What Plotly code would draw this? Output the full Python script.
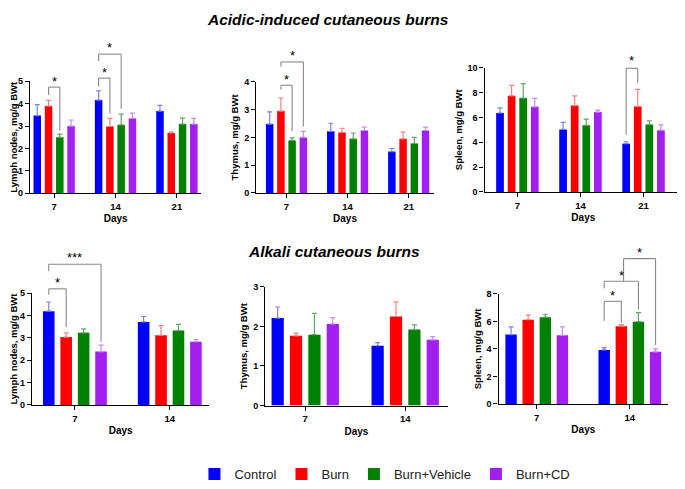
import plotly.graph_objects as go

OFF = 8  # page body margin in the browser
W, H = 685 - OFF, 489 - OFF

groups = ['Control', 'Burn', 'Burn+Vehicle', 'Burn+CD']
colors = ['#0000ff', '#ff0000', '#008000', '#a31ff0']
err_colors = ['#7f7fff', '#ff7f7f', '#5fa85f', '#c98af5']

days_acid = ['7', '14', '21']
days_alk = ['7', '14']

# Acidic-induced burns: rows = groups (Control, Burn, Burn+Vehicle, Burn+CD), columns = days
acid_lymph_mean = [[3.47, 4.16, 3.67], [3.89, 2.98, 2.69], [2.50, 3.05, 3.09], [3.00, 3.34, 3.09]]
acid_lymph_err = [[0.49, 0.41, 0.25], [0.26, 0.36, 0.04], [0.14, 0.48, 0.26], [0.27, 0.24, 0.25]]
acid_thymus_mean = [[2.48, 2.22, 1.49], [2.95, 2.18, 1.95], [1.89, 1.95, 1.78], [2.00, 2.25, 2.25]]
acid_thymus_err = [[0.44, 0.29, 0.11], [0.47, 0.15, 0.24], [0.09, 0.21, 0.22], [0.22, 0.12, 0.12]]
acid_spleen_mean = [[6.35, 5.03, 3.88], [7.73, 6.95, 6.88], [7.55, 5.36, 5.42], [6.85, 6.43, 4.97]]
acid_spleen_err = [[0.42, 0.57, 0.16], [0.84, 0.78, 1.38], [1.17, 0.50, 0.31], [0.68, 0.16, 0.42]]

# Alkali burns
alk_lymph_mean = [[4.20, 3.72], [3.04, 3.12], [3.23, 3.33], [2.39, 2.83]]
alk_lymph_err = [[0.41, 0.24], [0.19, 0.43], [0.18, 0.28], [0.29, 0.10]]
alk_thymus_mean = [[2.21, 1.51], [1.76, 2.25], [1.79, 1.92], [2.06, 1.66]]
alk_thymus_err = [[0.28, 0.08], [0.07, 0.37], [0.54, 0.12], [0.16, 0.08]]
alk_spleen_mean = [[5.04, 3.93], [6.12, 5.65], [6.31, 5.98], [4.99, 3.79]]
alk_spleen_err = [[0.56, 0.16], [0.33, 0.11], [0.21, 0.66], [0.61, 0.21]]

BARGAP = 0.265
SLOT = (1 - BARGAP) / 4


def fx(px):
    return (px - OFF) / W


def fy(py):
    return 1 - (py - OFF) / H


# panel layout: pixel geometry (x-axis left/right, y pixel of 0 and of top tick)
panels = [
    dict(days=days_acid, mean=acid_lymph_mean, err=acid_lymph_err, title='Lymph nodes, mg/g BWt',
         ymax=5, dtick=1, px=(28, 200), py=(193.7, 78.3), xr=(-0.395, 2.40)),
    dict(days=days_acid, mean=acid_thymus_mean, err=acid_thymus_err, title='Thymus, mg/g BWt',
         ymax=4, dtick=1, px=(255, 433), py=(193.3, 79), xr=(-0.495, 2.41)),
    dict(days=days_acid, mean=acid_spleen_mean, err=acid_spleen_err, title='Spleen, mg/g BWt',
         ymax=10, dtick=2, px=(484, 682), py=(192.3, 64.3), xr=(-0.52, 2.61)),
    dict(days=days_alk, mean=alk_lymph_mean, err=alk_lymph_err, title='Lymph nodes, mg/g BWt',
         ymax=5, dtick=1, px=(30, 208), py=(411.7, 296.7), xr=(-0.453, 1.418)),
    dict(days=days_alk, mean=alk_thymus_mean, err=alk_thymus_err, title='Thymus, mg/g BWt',
         ymax=3, dtick=1, px=(264, 447), py=(412.3, 290), xr=(-0.40, 1.425)),
    dict(days=days_alk, mean=alk_spleen_mean, err=alk_spleen_err, title='Spleen, mg/g BWt',
         ymax=8, dtick=2, px=(498, 668), py=(410.7, 297.3), xr=(-0.41, 1.41)),
]

# significance brackets: (panel, day index, group a, group b, top, left-bottom, right-bottom, label, label y)
brackets = [
    (0, 0, 1, 2, 4.74, 4.39, 2.80, '*', 5.10),
    (0, 1, 0, 1, 5.14, 4.78, 3.55, '*', 5.50),
    (0, 1, 0, 2, 6.21, 5.90, 3.77, '*', 6.59),
    (1, 0, 1, 2, 3.88, 3.73, 2.22, '*', 4.17),
    (1, 0, 1, 3, 4.72, 4.55, 2.39, '*', 5.04),
    (2, 2, 0, 1, 9.95, 4.61, 8.78, '*', 10.73),
    (3, 0, 0, 1, 5.20, 4.93, 3.48, '*', 5.58),
    (3, 0, 0, 3, 6.30, 5.99, 2.83, '***', 6.71),
    (5, 1, 0, 1, 7.46, 6.05, 5.88, '*', 8.05),
    (5, 1, 0, 2, 8.92, 8.40, 6.87, '*', 9.46),
    (5, 1, 1.13, 3, 10.56, 8.92, 4.28, '*', 11.15),
]

FONT = 'Arial, Liberation Sans, sans-serif'
fig = go.Figure()
layout = dict(width=W, height=H, margin=dict(l=0, r=0, t=0, b=0),
              paper_bgcolor='white', plot_bgcolor='white',
              barmode='group', bargap=BARGAP, bargroupgap=0.335,
              font=dict(family=FONT, color='black'),
              showlegend=True,
              legend=dict(orientation='h', x=fx(193), xanchor='left', y=fy(483), yanchor='middle',
                          font=dict(size=13, family=FONT, color='#222222'), itemclick=False),
              shapes=[], annotations=[])

for i, p in enumerate(panels):
    k = '' if i == 0 else str(i + 1)
    xa, ya = 'x' + k, 'y' + k
    for g in range(4):
        fig.add_trace(go.Bar(
            x=p['days'], y=p['mean'][g], name=groups[g], xaxis=xa, yaxis=ya,
            marker=dict(color=colors[g], line=dict(width=0)),
            error_y=dict(type='data', symmetric=False, array=p['err'][g],
                         arrayminus=[0] * len(p['days']), color=err_colors[g], thickness=1.2, width=2.5),
            legendgroup=groups[g], showlegend=(i == 0)))
    x0, x1 = p['px']
    y0, y1 = p['py']
    layout['xaxis' + k] = dict(
        domain=[fx(x0), fx(x1)], anchor=ya, type='category', range=list(p['xr']),
        showline=True, linecolor='black', linewidth=1.4, ticks='outside', ticklen=4, tickwidth=1.3,
        tickcolor='black', showgrid=False, zeroline=False,
        tickfont=dict(size=9.5, family=FONT, weight='bold'),
        title=dict(text='Days', font=dict(size=10, family=FONT, weight='bold'), standoff=4))
    layout['yaxis' + k] = dict(
        domain=[fy(y0), fy(y1)], anchor=xa, range=[0, p['ymax']], dtick=p['dtick'],
        showline=True, linecolor='black', linewidth=1.4, ticks='outside', ticklen=4, tickwidth=1.3,
        tickcolor='black', showgrid=False, zeroline=False,
        tickfont=dict(size=9, family=FONT, weight='bold'),
        title=dict(text=p['title'], font=dict(size=9.5, family=FONT, weight='bold'), standoff=3))


def xfrac(p, day, g):
    pos = day + (g - 1.5) * SLOT
    r0, r1 = p['xr']
    return (pos - r0) / (r1 - r0)


for (pi, day, ga, gb, top, lb, rb, lab, ly) in brackets:
    p = panels[pi]
    k = '' if pi == 0 else str(pi + 1)
    xr_, yr_ = 'x' + k + ' domain', 'y' + k + ' domain'
    xa_, xb_ = xfrac(p, day, ga), xfrac(p, day, gb)
    m = p['ymax']
    line = dict(color='#8a8a8a', width=1.1)
    for (xs, ys, xe, ye) in [(xa_, lb, xa_, top), (xa_, top, xb_, top), (xb_, top, xb_, rb)]:
        layout['shapes'].append(dict(type='line', xref=xr_, yref=yr_, x0=xs, y0=ys / m, x1=xe, y1=ye / m,
                                     line=line, layer='above'))
    layout['annotations'].append(dict(text=lab, xref=xr_, yref=yr_, x=(xa_ + xb_) / 2, y=ly / m,
                                      showarrow=False, xanchor='center', yanchor='middle', yshift=-2,
                                      font=dict(size=13, family=FONT, color='black')))

layout['annotations'].append(dict(text='<b><i>Acidic-induced cutaneous burns</i></b>', xref='paper', yref='paper',
                                  x=fx(327), y=fy(15), showarrow=False, xanchor='center', yanchor='middle',
                                  font=dict(size=15.5, family=FONT, color='black')))
layout['annotations'].append(dict(text='<b><i>Alkali cutaneous burns</i></b>', xref='paper', yref='paper',
                                  x=fx(333), y=fy(254), showarrow=False, xanchor='center', yanchor='middle',
                                  font=dict(size=15.5, family=FONT, color='black')))

fig.update_layout(**layout)
fig.write_html('out.html')
